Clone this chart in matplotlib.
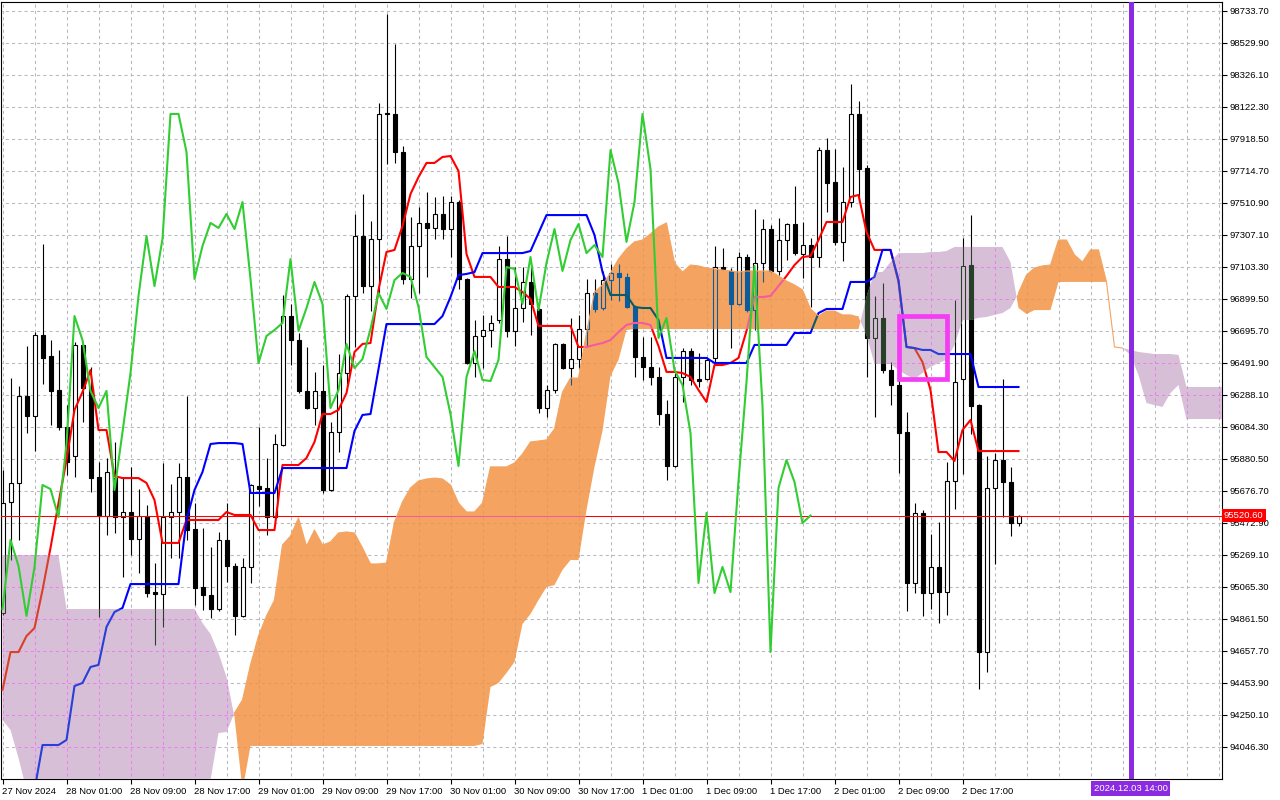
#!/usr/bin/env python3
"""
BTCUSD H1 with Ichimoku cloud, MT5 style
"""

import numpy as np
import matplotlib
matplotlib.use('Agg')
import matplotlib.pyplot as plt
import matplotlib.transforms as mtransforms
from matplotlib.path import Path
from matplotlib.patches import Rectangle

plt.rcParams['font.family'] = ['Liberation Sans', 'DejaVu Sans']

# hourly candles, 27 Nov 17:00 .. 3 Dec 00:00
opens = [94900, 95607, 95728, 96282, 96154, 96670, 96536, 96320, 96084, 95900,
         96607, 96333, 95766, 95517, 95759, 95511, 95543, 95371, 95517, 95033,
         95021, 95511, 95543, 95766, 95435, 95065, 95014, 94925, 95365, 95199,
         94881, 95193, 95709, 95696, 95511, 95970, 96791, 96638, 96314, 96205,
         96314, 95683, 96052, 96428, 96919, 97301, 96982, 97282, 98084, 98078,
         97836, 97027, 97237, 97384, 97352, 97441, 97345, 97517, 97027, 96492,
         96664, 96702, 96766, 97154, 96696, 96842, 97008, 96836, 96205, 96320,
         96613, 96460, 96517, 96708, 96938, 96842, 97020, 97065, 97040, 96849,
         96530, 96466, 96403, 96167, 95836, 96403, 96568, 96390, 96390, 96524,
         97103, 97078, 96868, 97167, 96829, 97129, 97345, 97078, 97275, 97377,
         97186, 97243, 97167, 97848, 97645, 97263, 97517, 98078, 97734, 96651,
         96779, 96447, 96352, 96052, 95091, 95537, 95027, 95193, 95033, 95740,
         96390, 97116, 96224, 94651, 95696, 95874, 95734, 95473]
highs = [95810, 96396, 96345, 96600, 96689, 97250, 96638, 96575, 96224, 96626,
         96615, 96466, 95861, 95887, 95989, 95766, 95830, 95689, 95588, 95218,
         95855, 95721, 95855, 96282, 95600, 95441, 95320, 95416, 95600, 95218,
         95250, 95721, 96084, 95887, 96040, 96925, 96868, 96683, 96594, 96435,
         96479, 96116, 96549, 96931, 97441, 97568, 97396, 98148, 98715, 98524,
         97874, 97422, 97485, 97581, 97549, 97555, 97555, 97530, 97033, 96766,
         96798, 96798, 97237, 97301, 97103, 97103, 97103, 96842, 96352, 96619,
         96619, 96779, 96798, 97027, 97027, 97078, 97122, 97122, 97065, 96861,
         96658, 96658, 96466, 96256, 96428, 96587, 96587, 96556, 96530, 97237,
         97224, 97097, 97199, 97186, 97473, 97409, 97371, 97415, 97384, 97619,
         97390, 97288, 97868, 97925, 97855, 97740, 98269, 98161, 97753, 96919,
         97001, 96498, 96384, 96180, 95600, 95556, 95403, 95479, 95861, 96893,
         97288, 97434, 96231, 95900, 95919, 96390, 95830, 95524]
lows = [94887, 95237, 95365, 96046, 95931, 96358, 96097, 96065, 95779, 95766,
        96116, 95670, 94874, 95396, 95409, 95129, 95269, 95154, 95002, 94696,
        94811, 95250, 95250, 95365, 94951, 94919, 94868, 94912, 95097, 94760,
        94874, 95091, 95581, 95396, 95505, 95963, 96479, 96301, 96199, 96097,
        95664, 95677, 95925, 96358, 96594, 96938, 96823, 96938, 97759, 97766,
        96995, 96906, 96938, 97040, 97282, 97282, 97167, 96963, 96486, 96403,
        96460, 96594, 96747, 96658, 96600, 96753, 96670, 96173, 96148, 96301,
        96454, 96352, 96460, 96594, 96817, 96829, 96893, 96887, 96842, 96403,
        96384, 96352, 96097, 95747, 95830, 96244, 96352, 96339, 96384, 96498,
        97084, 96587, 96861, 96817, 96702, 97008, 97071, 97052, 97148, 97180,
        97033, 96849, 97103, 97454, 97243, 97142, 97485, 97517, 96403, 96148,
        96428, 96224, 95791, 94912, 95027, 94881, 94925, 94836, 94887, 95562,
        95785, 96040, 94416, 94524, 95212, 95511, 95390, 95454]
closes = [95600, 95728, 96282, 96154, 96670, 96524, 96314, 96084, 95861, 96607,
          96333, 95759, 95517, 95798, 95511, 95543, 95371, 95517, 95027, 95021,
          95511, 95543, 95766, 95428, 95059, 95014, 94925, 95365, 95199, 94881,
          95193, 95715, 95689, 95511, 95976, 96791, 96638, 96314, 96205, 96314,
          95683, 96052, 96428, 96919, 97301, 96982, 97282, 98078, 98078, 97836,
          97027, 97237, 97384, 97352, 97441, 97345, 97517, 97027, 96492, 96664,
          96702, 96747, 97154, 96696, 96842, 97008, 96868, 96205, 96320, 96613,
          96460, 96517, 96708, 96938, 96836, 97020, 97065, 97040, 96849, 96530,
          96466, 96403, 96167, 95836, 96403, 96568, 96384, 96377, 96511, 97103,
          97091, 96868, 97167, 96829, 97129, 97345, 97078, 97275, 97377, 97192,
          97243, 97167, 97848, 97638, 97263, 97517, 98078, 97727, 96651, 96779,
          96447, 96352, 96046, 95091, 95537, 95027, 95193, 95033, 95740, 96371,
          97110, 96218, 94651, 95696, 95874, 95734, 95473, 95520.6]

# Ichimoku (9, 26, 52) as drawn
tenkan = [94409, 94651, 94651, 94753, 94804, 95046, 95314, 95600, 95874, 96193,
          96307, 96447, 96065, 96065, 95772, 95759, 95759, 95759, 95728, 95619,
          95346, 95346, 95346, 95492, 95492, 95492, 95492, 95492, 95543, 95524,
          95524, 95524, 95428, 95428, 95428, 95842, 95842, 95842, 95887, 95989,
          96167, 96167, 96193, 96301, 96562, 96613, 96619, 96957, 97199, 97212,
          97364, 97568, 97676, 97766, 97766, 97804, 97810, 97715, 97186, 97040,
          97040, 97040, 96976, 96976, 96976, 96944, 96900, 96728, 96728, 96728,
          96728, 96728, 96594, 96594, 96607, 96619, 96638, 96689, 96734, 96747,
          96747, 96734, 96600, 96435, 96435, 96428, 96403, 96320, 96244, 96479,
          96479, 96492, 96524, 96696, 96912, 96912, 96919, 96982, 97046, 97116,
          97167, 97173, 97275, 97390, 97390, 97390, 97549, 97562, 97326, 97212,
          97212, 97212, 97008, 96594, 96587, 96498, 96320, 95925, 95925, 95868,
          96065, 96129, 95931, 95931, 95931, 95931, 95931, 95931]
kijun = [93518, 93613, 93709, 93772, 93772, 94059, 94059, 94059, 94091, 94435,
         94454, 94556, 94569, 94811, 94906, 94932, 95084, 95084, 95084, 95084,
         95084, 95084, 95084, 95492, 95683, 95798, 95976, 95982, 95982, 95982,
         95976, 95664, 95664, 95664, 95664, 95823, 95823, 95823, 95823, 95823,
         95823, 95823, 95823, 95823, 96059, 96161, 96167, 96454, 96740, 96740,
         96740, 96740, 96740, 96740, 96740, 96791, 96912, 97052, 97059, 97071,
         97192, 97192, 97192, 97192, 97192, 97192, 97205, 97320, 97434, 97434,
         97434, 97434, 97434, 97434, 97307, 97071, 96925, 96925, 96925, 96849,
         96842, 96842, 96766, 96524, 96524, 96524, 96524, 96524, 96524, 96492,
         96492, 96492, 96492, 96492, 96607, 96607, 96607, 96607, 96607, 96683,
         96683, 96683, 96810, 96836, 96836, 96836, 97008, 97008, 97008, 97040,
         97212, 97212, 97020, 96594, 96587, 96575, 96575, 96549, 96549, 96549,
         96549, 96549, 96339, 96339, 96339, 96339, 96339, 96339]
# senkou spans, already shifted 26 bars ahead (bars 0..153)
span_a = [94218, 94155, 93976, 93772, 93581, 93454, 93390, 93327, 93327, 93263,
          93263, 93231, 93199, 93199, 93199, 93231, 93263, 93295, 93327, 93390,
          93454, 93518, 93581, 93645, 93709, 93772, 93836, 94135, 94142, 94263,
          94346, 94569, 94753, 94881, 94982, 95333, 95390, 95505, 95326, 95428,
          95333, 95352, 95409, 95416, 95409, 95314, 95212, 95212, 95218, 95479,
          95607, 95696, 95740, 95753, 95759, 95753, 95715, 95600, 95543, 95543,
          95600, 95830, 95830, 95830, 95855, 95912, 95989, 95995, 96002, 96072,
          96307, 96396, 96396, 96683, 96944, 96989, 97065, 97154, 97218, 97263,
          97275, 97314, 97358, 97384, 97129, 97071, 97116, 97110, 97097, 97091,
          97084, 97078, 97071, 97078, 97078, 97078, 97078, 97046, 97014, 96989,
          96957, 96836, 96791, 96823, 96823, 96798, 96798, 96785, 96670, 96486,
          96486, 96486, 96447, 96415, 96390, 96428, 96466, 96492, 96511, 96607,
          96766, 96766, 96779, 96785, 96798, 96810, 96842, 96938, 97052, 97097,
          97110, 97116, 97275, 97275, 97180, 97135, 97212, 97212, 97008, 96594,
          96587, 96543, 96415, 96237, 96224, 96212, 96301, 96352, 96135, 96135,
          96135, 96135, 96135, 96135]
span_b = [95269, 95269, 95269, 95269, 95269, 95269, 95269, 95269, 94925, 94925,
          94925, 94925, 94925, 94925, 94925, 94925, 94925, 94925, 94925, 94925,
          94925, 94925, 94925, 94925, 94925, 94836, 94766, 94645, 94492, 94237,
          93772, 94053, 94053, 94053, 94053, 94053, 94053, 94053, 94053, 94053,
          94053, 94053, 94053, 94053, 94053, 94053, 94053, 94053, 94053, 94053,
          94053, 94053, 94053, 94053, 94053, 94053, 94053, 94053, 94053, 94053,
          94065, 94428, 94454, 94518, 94588, 94830, 94893, 94982, 95065, 95078,
          95174, 95237, 95237, 95556, 95830, 96059, 96409, 96511, 96702, 96708,
          96708, 96708, 96708, 96708, 96708, 96708, 96708, 96708, 96708, 96708,
          96708, 96708, 96708, 96708, 96708, 96708, 96708, 96708, 96708, 96708,
          96708, 96708, 96708, 96708, 96708, 96708, 96708, 96708, 96912, 97071,
          97071, 97135, 97192, 97192, 97192, 97192, 97199, 97199, 97205, 97231,
          97231, 97231, 97231, 97231, 97231, 97231, 97135, 96842, 96804, 96829,
          96829, 96829, 97008, 97008, 97008, 97008, 97008, 97008, 97008, 96594,
          96587, 96575, 96562, 96556, 96549, 96549, 96549, 96543, 96339, 96339,
          96339, 96339, 96339, 96339]

bid = 95520.6
price_ticks = [98733.70, 98529.90, 98326.10, 98122.30, 97918.50, 97714.70,
               97510.90, 97307.10, 97103.30, 96899.50, 96695.70, 96491.90,
               96288.10, 96084.30, 95880.50, 95676.70, 95472.90, 95269.10,
               95065.30, 94861.50, 94657.70, 94453.90, 94250.10, 94046.30]
time_tick_bars = [0, 8, 16, 24, 32, 40, 48, 56, 64, 72, 80, 88, 96, 104, 112, 120]
time_labels = ['27 Nov 2024', '28 Nov 01:00', '28 Nov 09:00', '28 Nov 17:00',
               '29 Nov 01:00', '29 Nov 09:00', '29 Nov 17:00', '30 Nov 01:00',
               '30 Nov 09:00', '30 Nov 17:00', '1 Dec 01:00', '1 Dec 09:00',
               '1 Dec 17:00', '2 Dec 01:00', '2 Dec 09:00', '2 Dec 17:00']
grid_bars = list(range(0, 153, 4))
box_bars = [112, 118]
box_prices = [96387, 96791]
marker_bar = 141
marker_label = '2024.12.03 14:00'

ORANGE = '#F4A460'
THISTLE = '#D8BFD8'


def xor_hex(color, cloud):
    """MT5 paints the cloud in XOR mode - colour a thing gets under it"""
    a = int(color[1:], 16)
    b = int(cloud[1:], 16)
    return '#%06X' % (a ^ b ^ 0xFFFFFF)


o = np.array(opens, float)
h = np.array(highs, float)
l = np.array(lows, float)
c = np.array(closes, float)
bars = np.arange(len(c))
ahead = np.arange(len(span_a))
sa = np.array(span_a, float)
sb = np.array(span_b, float)

fig = plt.figure(figsize=(12.8, 8), dpi=100)
ax = fig.add_axes([1 / 1280, 21 / 800, 1221 / 1280, 777 / 800])


def draw_grid(color, z):
    kw = dict(colors=color, linewidth=0.75, linestyles=[(0, (3, 3))], zorder=z)
    return [ax.hlines(price_ticks, -5, 160, **kw),
            ax.vlines(grid_bars, 90000, 100000, **kw)]


def draw_candles(dark, light, z):
    arts = [ax.vlines(bars, l, h, colors=dark, linewidth=0.8, zorder=z)]
    fills = [light if cc >= oo else dark for oo, cc in zip(o, c)]
    body = ax.bar(bars, np.abs(c - o), bottom=np.minimum(o, c), width=0.5,
                  color=fills, edgecolor=dark, linewidth=0.8, zorder=z + 0.01)
    return arts + list(body)


def draw_lines(red, blue, z):
    arts = [ax.axhline(bid, color=red, linewidth=0.75, zorder=z)]
    arts += ax.plot(bars, tenkan, color=red, linewidth=1.5, zorder=z + 0.01)
    arts += ax.plot(bars, kijun, color=blue, linewidth=1.5, zorder=z + 0.02)
    return arts


draw_grid('#B8B8C0', 1)
draw_candles('#000000', '#FFFFFF', 2)
draw_lines('#FF0000', '#0000FF', 3)

# cloud
up = ax.fill_between(ahead, sa, sb, where=sa >= sb, interpolate=True,
                     color=ORANGE, linewidth=0, zorder=5)
down = ax.fill_between(ahead, sa, sb, where=sa < sb, interpolate=True,
                       color=THISTLE, linewidth=0, zorder=5)

# what lies under the cloud shows through in xor colours
for coll, cloud, grid_col in [(up, ORANGE, '#E49A5C'), (down, THISTLE, '#E882E8')]:
    paths = coll.get_paths()
    if not paths:
        continue
    clip = Path.make_compound_path(*paths)
    arts = draw_grid(grid_col, 5.1)
    arts += draw_candles(xor_hex('#000000', cloud), xor_hex('#FFFFFF', cloud), 5.2)
    arts += draw_lines(xor_hex('#FF0000', cloud), xor_hex('#0000FF', cloud), 5.3)
    for a in arts:
        a.set_clip_path(clip, ax.transData)

ax.plot(ahead, np.where(sa >= sb, sa, np.nan), color=ORANGE, linewidth=0.8, zorder=5.5)

# chikou span: close drawn 26 bars back
ax.plot(bars[:len(c) - 26], c[26:], color='#32CD32', linewidth=1.5, zorder=6)

ax.add_patch(Rectangle((box_bars[0], box_prices[0]), box_bars[1] - box_bars[0],
                       box_prices[1] - box_prices[0], fill=False,
                       edgecolor='#F53CF5', linewidth=3.4, zorder=7))
ax.axvline(marker_bar, color='#8A2BE2', linewidth=3.6, zorder=7)

ax.set_xlim(-0.1875, 152.4375)
ax.set_ylim(93842.5, 98791.0)

ax.yaxis.tick_right()
ax.set_yticks(price_ticks)
ax.set_yticklabels(['%.2f' % v for v in price_ticks])
ax.set_xticks(time_tick_bars)
ax.set_xticklabels(time_labels, ha='left')
ax.tick_params(axis='both', direction='out', length=3.5, width=0.8, pad=2,
               labelsize=6.8, colors='black')
for sp in ax.spines.values():
    sp.set_color('black')
    sp.set_linewidth(0.8)

tag_tf = mtransforms.blended_transform_factory(ax.transAxes, ax.transData)
ax.text(1.0016, bid, '%.2f' % bid, transform=tag_tf, ha='left', va='center',
        color='white', fontsize=6.8, clip_on=False, zorder=20,
        bbox=dict(boxstyle='square,pad=0.25', fc='#FF0000', ec='none'))

time_tf = mtransforms.blended_transform_factory(ax.transData, ax.transAxes)
ax.text(marker_bar, -0.0065, marker_label, transform=time_tf, ha='center', va='top',
        color='white', fontsize=6.8, clip_on=False, zorder=20,
        bbox=dict(boxstyle='square,pad=0.3', fc='#8A2BE2', ec='none'))

fig.savefig('out.png', dpi=100)
